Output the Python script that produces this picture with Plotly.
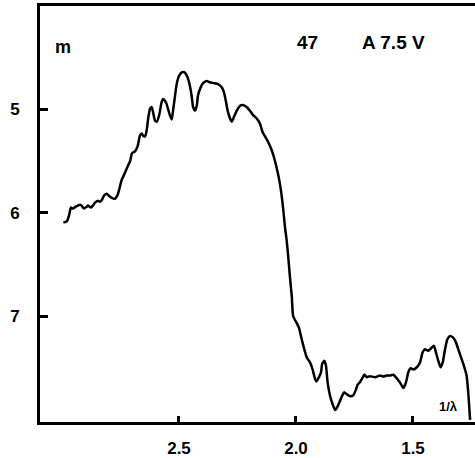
import plotly.graph_objects as go

# 1/lambda (inverse microns) and magnitude m
inv_lambda = [2.994, 2.980, 2.970, 2.962, 2.953, 2.941, 2.932, 2.923, 2.916, 2.906,
              2.894, 2.889, 2.876, 2.868, 2.859, 2.847, 2.838, 2.829, 2.821, 2.809,
              2.799, 2.788, 2.774, 2.762, 2.756, 2.745, 2.739, 2.728, 2.719, 2.709,
              2.701, 2.688, 2.677, 2.667, 2.659, 2.654, 2.645, 2.638, 2.632, 2.624,
              2.617, 2.611, 2.603, 2.595, 2.585, 2.574, 2.568, 2.560, 2.553, 2.547,
              2.538, 2.531, 2.526, 2.517, 2.510, 2.500, 2.488, 2.479, 2.467, 2.457,
              2.446, 2.440, 2.432, 2.424, 2.419, 2.407, 2.397, 2.382, 2.368, 2.350,
              2.333, 2.318, 2.308, 2.299, 2.291, 2.275, 2.265, 2.253, 2.239, 2.227,
              2.211, 2.197, 2.184, 2.167, 2.154, 2.142, 2.132, 2.120, 2.104, 2.093,
              2.076, 2.064, 2.054, 2.047, 2.040, 2.033, 2.026, 2.018, 2.012, 1.997,
              1.987, 1.976, 1.965, 1.954, 1.940, 1.930, 1.919, 1.912, 1.902, 1.893,
              1.888, 1.879, 1.872, 1.865, 1.855, 1.845, 1.833, 1.826, 1.816, 1.805,
              1.794, 1.783, 1.769, 1.755, 1.745, 1.736, 1.727, 1.717, 1.708, 1.698,
              1.684, 1.662, 1.641, 1.627, 1.612, 1.598, 1.584, 1.570, 1.556, 1.541,
              1.530, 1.520, 1.510, 1.499, 1.484, 1.470, 1.459, 1.449, 1.435, 1.420,
              1.410, 1.402, 1.392, 1.382, 1.373, 1.363, 1.353, 1.342, 1.328, 1.316,
              1.302, 1.285, 1.271, 1.264, 1.256]

magnitude = [6.092, 6.082, 6.025, 5.948, 5.958, 5.939, 5.929, 5.920, 5.929, 5.958,
             5.939, 5.929, 5.948, 5.929, 5.901, 5.882, 5.891, 5.872, 5.834, 5.815,
             5.834, 5.853, 5.863, 5.824, 5.777, 5.681, 5.653, 5.596, 5.548, 5.500,
             5.424, 5.404, 5.357, 5.252, 5.233, 5.252, 5.261, 5.201, 5.090, 4.994,
             4.975, 5.023, 5.106, 5.118, 5.058, 4.927, 4.899, 4.915, 4.946, 4.994,
             5.061, 5.096, 5.023, 4.867, 4.756, 4.677, 4.641, 4.638, 4.670, 4.737,
             4.867, 4.975, 5.011, 4.963, 4.867, 4.784, 4.746, 4.724, 4.737, 4.746,
             4.756, 4.784, 4.832, 4.927, 5.023, 5.118, 5.071, 5.011, 4.963, 4.956,
             4.975, 5.011, 5.052, 5.090, 5.137, 5.223, 5.261, 5.309, 5.392, 5.471,
             5.631, 5.786, 5.977, 6.139, 6.263, 6.426, 6.616, 6.807, 6.998, 7.062,
             7.110, 7.218, 7.313, 7.396, 7.444, 7.504, 7.599, 7.628, 7.587, 7.539,
             7.456, 7.428, 7.475, 7.635, 7.761, 7.838, 7.905, 7.885, 7.838, 7.778,
             7.733, 7.752, 7.771, 7.761, 7.714, 7.657, 7.635, 7.599, 7.561, 7.587,
             7.577, 7.587, 7.571, 7.580, 7.571, 7.571, 7.564, 7.596, 7.637, 7.692,
             7.637, 7.539, 7.501, 7.513, 7.491, 7.444, 7.348, 7.316, 7.332, 7.301,
             7.284, 7.348, 7.428, 7.491, 7.444, 7.316, 7.221, 7.189, 7.205, 7.253,
             7.348, 7.459, 7.571, 7.730, 8.000]

x_ticks = [2.5, 2.0, 1.5]
x_ticklabels = ["2.5", "2.0", "1.5"]
y_ticks = [5, 6, 7]
y_ticklabels = ["5", "6", "7"]

FONT = "Liberation Sans, Arial, sans-serif"


def label(text, x, y, size):
    return dict(text=text, x=x, y=y, xref="paper", yref="paper", showarrow=False,
                xanchor="center", yanchor="middle",
                font=dict(family=FONT, size=size, color="black", weight="bold"))


fig = go.Figure()
fig.add_trace(go.Scatter(
    x=inv_lambda, y=magnitude, mode="lines",
    line=dict(color="black", width=2.5, shape="spline", smoothing=0.5),
    showlegend=False, hoverinfo="skip"))

fig.update_layout(
    width=475, height=458,
    margin=dict(l=40, r=0, t=6, b=31),
    paper_bgcolor="white", plot_bgcolor="white",
    xaxis=dict(range=[3.094, 1.235], tickvals=x_ticks, ticktext=x_ticklabels,
               showgrid=False, zeroline=False, showline=True, linecolor="black",
               linewidth=2.5, mirror=True, ticks="inside", ticklen=6, tickwidth=3,
               tickcolor="black", ticklabelstandoff=9,
               tickfont=dict(family=FONT, size=17, color="black", weight="bold")),
    yaxis=dict(range=[8.02, 4.0], tickvals=y_ticks, ticktext=y_ticklabels,
               showgrid=False, zeroline=False, showline=True, linecolor="black",
               linewidth=3, mirror=False, ticks="inside", ticklen=8, tickwidth=2.5,
               tickcolor="black", ticklabelstandoff=14,
               tickfont=dict(family=FONT, size=17, color="black", weight="bold")),
    annotations=[
        label("m", 0.0529, 0.9026, 18),
        label("47", 0.6138, 0.912, 19),
        label("A 7.5 V", 0.8115, 0.912, 19),
        label("1/λ", 0.940, 0.038, 13),
    ],
)

fig.write_html("out.html", config={"displayModeBar": False},
               post_script="document.body.style.margin='0';document.body.style.overflow='hidden';")
